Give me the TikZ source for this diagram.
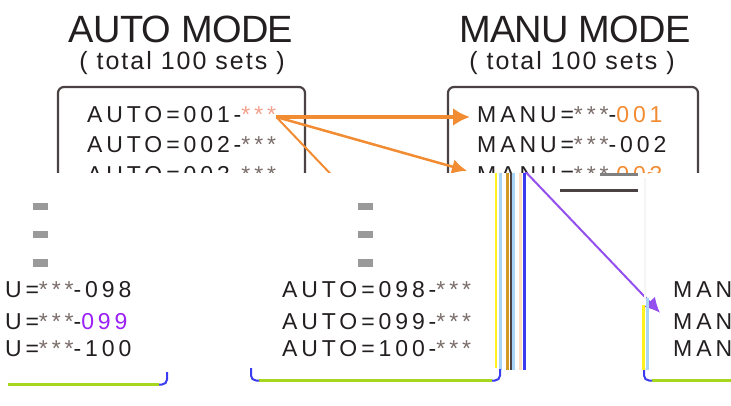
\documentclass[tikz,border=0pt]{standalone}
\usepackage{fontspec}
\setmainfont{Liberation Sans}
\newfontfamily\titlefont[LetterSpace=-2]{Liberation Sans}
\newfontfamily\subfont[LetterSpace=8]{Liberation Sans}
\newfontfamily\entryfont[LetterSpace=17]{Liberation Sans}
\usetikzlibrary{positioning,arrows.meta}

\definecolor{boxgray}{HTML}{4B4343}
\definecolor{inkdark}{HTML}{231F20}
\definecolor{stargray}{HTML}{7A6E6A}
\definecolor{starpink}{HTML}{F3A08C}
\definecolor{linkorange}{HTML}{F28C33}
\definecolor{linkpurple}{HTML}{9450EE}
\definecolor{hipurple}{HTML}{9B20F5}
\definecolor{edgelime}{HTML}{A6D61E}
\definecolor{edgeyellow}{HTML}{FFF21E}
\definecolor{edgeblue}{HTML}{A8D5F5}
\definecolor{edgeochre}{HTML}{D49A25}
\definecolor{edgepeach}{HTML}{FFE0C0}
\definecolor{edgeviolet}{HTML}{3B3BF0}
\definecolor{dashgray}{HTML}{9A9A9A}

% both lists with their links; #1 colour of the long link, #2 colour of its number,
% #3 opacity of the third rows
\newcommand{\modelists}[3]{
%Titles
\node[modetitle] (autotitle) at (181,43) {AUTO MODE};
\node[modesub] (autosub) at (182,70) {( total 100 sets )};
\node[modetitle] (manutitle) at (575,43) {MANU MODE};
\node[modesub] (manusub) at (572,70) {( total 100 sets )};

%AUTO list
\node[entry] (a001) at (87,123) {AUTO=001-{\color{starpink}***}};
\node[entry] (a002) at (87,153) {AUTO=002-{\color{stargray}***}};
\node[entry, text opacity=#3] (a003) at (87,183) {AUTO=003-{\color{stargray}***}};
\node[dashbar] (adash1) at (168.5,207) {};
\node[dashbar] (adash2) at (168.5,235) {};
\node[dashbar] (adash3) at (168.5,263) {};
\node[entry] (a098) at (85,298) {AUTO=098-{\color{stargray}***}};
\node[entry] (a099) at (85,329) {AUTO=099-{\color{stargray}***}};
\node[entry] (a100) at (85,356) {AUTO=100-{\color{stargray}***}};

%MANU list
\node[entry] (m001) at (477,123) {MANU={\color{stargray}***}-{\color{linkorange}001}};
\node[entry] (m002) at (477,153) {MANU={\color{stargray}***}-002};
\node[entry, text opacity=#3] (m003) at (477,183) {MANU={\color{stargray}***}-{\color{linkorange}003}};
\node[dashbar] (mdash1) at (574.5,207) {};
\node[dashbar] (mdash2) at (574.5,235) {};
\node[dashbar] (mdash3) at (574.5,263) {};
\node[entry] (m098) at (476,298) {MANU={\color{stargray}***}-098};
\node[entry] (m099) at (476,329) {MANU={\color{stargray}***}-{\color{#2}099}};
\node[entry] (m100) at (476,356) {MANU={\color{stargray}***}-100};

%links
\draw[link, line width=3.5pt, -{Latex[length=17pt,width=18pt]}] (a001.east) -- ([xshift=-7pt]m001.west);
\draw[link] (a001.east) -- ([xshift=-10pt]m003.north west);
\draw[link, draw=#1, line width=2pt] (a001.east) -- ([xshift=-13pt,yshift=4pt]m099.north west);
}

\begin{document}
\begin{tikzpicture}[x=1pt, y=-1pt,
  modetitle/.style={anchor=base, inner sep=0pt, text=inkdark, font=\titlefont\fontsize{38}{38}\selectfont},
  modesub/.style={anchor=base, inner sep=0pt, text=inkdark, font=\subfont\fontsize{25}{25}\selectfont},
  entry/.style={anchor=base west, inner sep=0pt, text height=12pt, text depth=0pt, text=inkdark, font=\entryfont\fontsize{23}{23}\selectfont},
  dashbar/.style={fill=dashgray, inner sep=0pt, minimum width=15pt, minimum height=7pt},
  link/.style={draw=linkorange, line width=2.5pt, -{Latex[length=15pt,width=15pt]}}]

\fill[white] (0,0) rectangle (731,406);
\useasboundingbox (0,0) rectangle (731,406);

%upper part
\begin{scope}
\clip (0,0) rectangle (731,173);
\draw[boxgray, line width=2.2pt, rounded corners=6pt] (58,87) rectangle (305,381);
\draw[boxgray, line width=2.2pt, rounded corners=6pt] (448,87) rectangle (698,381);
\modelists{linkorange}{hipurple}{1}
\end{scope}

%lower part, moved right and wrapped round
\begin{scope}
\clip (0,173) rectangle (731,406);
\begin{scope}[xshift=197pt]
\modelists{linkpurple}{hipurple}{0}
\end{scope}
\begin{scope}[xshift=-534pt]
\modelists{linkpurple}{hipurple}{0}
\end{scope}

%edges of the lower part
\draw[edgeyellow, line width=2pt] (496,173) -- (496,368);
\draw[edgeblue, line width=3pt] (500,173) -- (500,370);
\draw[edgeochre, line width=3pt] (507,173) -- (507,370);
\draw[boxgray, line width=2pt] (510.5,173) -- (510.5,370);
\draw[edgeblue, line width=2.5pt] (513.5,173) -- (513.5,370);
\draw[edgepeach, line width=3pt] (520,173) -- (520,370);
\draw[edgeviolet, line width=2.5pt] (524.5,173) -- (524.5,370);
\draw[edgelime, line width=3pt] (259,380.5) -- (492,380.5);
\draw[edgeviolet, line width=2pt, rounded corners=5pt] (251,368) |- (259,380.5);
\draw[edgeviolet, line width=2pt, rounded corners=5pt] (492,380.5) -| (500,369);

\draw[edgelime, line width=3pt] (8,384.5) -- (159,384.5);
\draw[edgeviolet, line width=2pt, rounded corners=5pt] (159,384.5) -| (167,372);
\draw[edgelime, line width=3pt] (652,380.5) -- (731,380.5);
\draw[edgeviolet, line width=2pt, rounded corners=5pt] (644,368) |- (652,380.5);
\draw[black!4, line width=2pt] (645,178) -- (645,300);
\draw[edgeyellow, line width=2.5pt] (643.5,305) -- (643.5,370);
\draw[edgeblue, line width=2.5pt] (647.5,298) -- (647.5,370);

\draw[gray, line width=3.5pt] (600,174.5) -- (638,174.5);
\draw[boxgray, line width=3pt] (560,191) -- (638,191);
\end{scope}

\end{tikzpicture}
\end{document}
